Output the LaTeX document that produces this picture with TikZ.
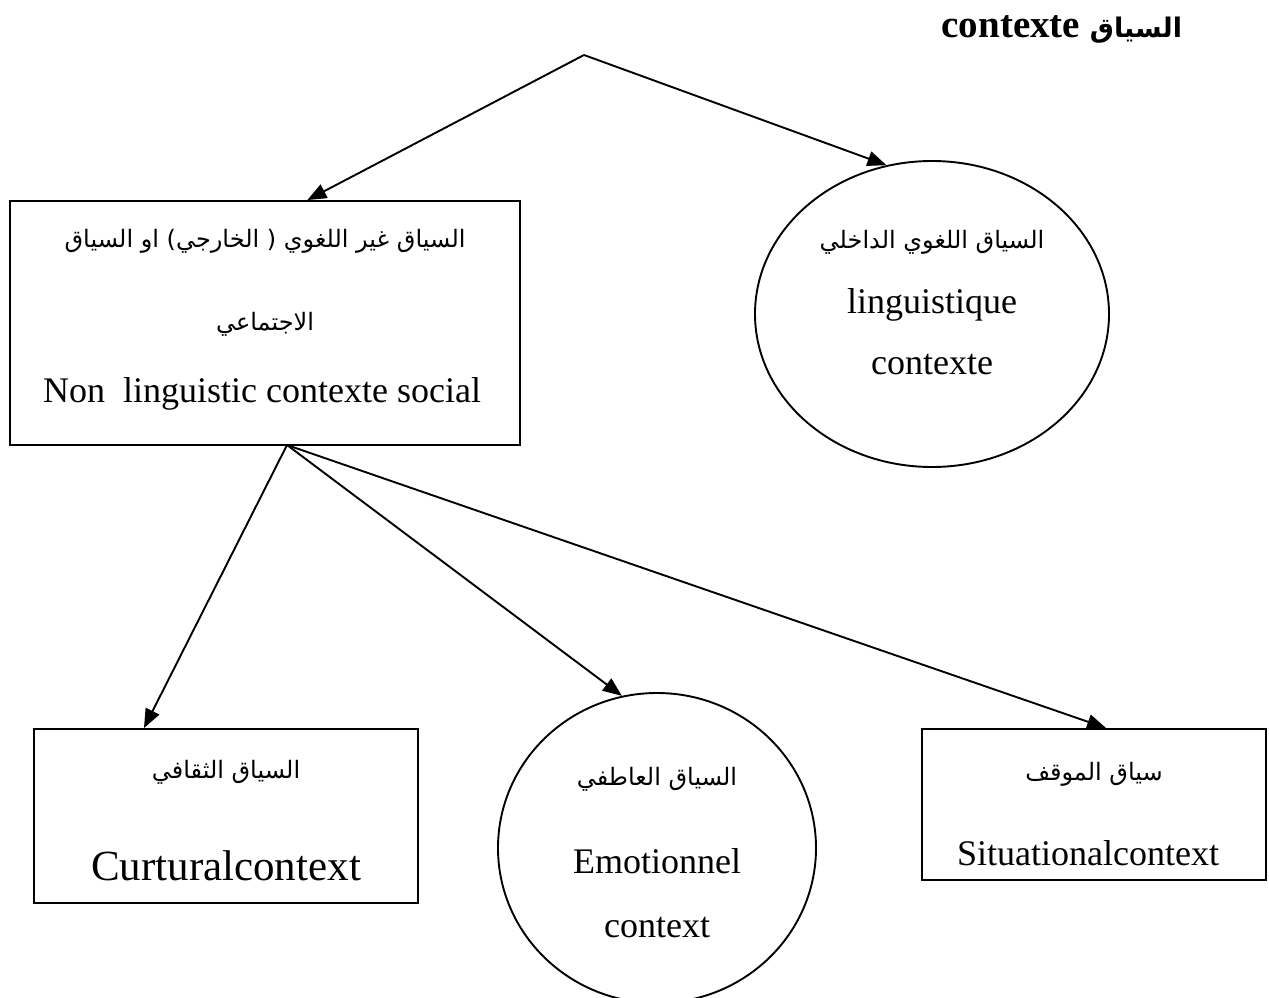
\documentclass[tikz,border=0pt]{standalone}
\usepackage{fontspec}
\setmainfont{Liberation Serif}
\newfontfamily\arabicfont[Script=Arabic]{DejaVu Sans}
\TeXXeTstate=1
\usetikzlibrary{arrows.meta,shapes.geometric}
% right-to-left Arabic run
\newcommand\rtl[1]{{\arabicfont\beginR #1\endR}}
\begin{document}
\begin{tikzpicture}[x=1pt,y=-1pt,line width=1.9pt,
  frame/.style={draw,rectangle,inner sep=0pt},
  oval/.style={draw,ellipse,inner sep=0pt},
  txt/.style={inner sep=0pt,anchor=base},
  lat/.style={txt,font=\fontsize{36}{40}\selectfont},
  arb/.style={txt,font=\fontsize{24}{28}\selectfont},
  link/.style={-{Triangle[length=19pt,width=15pt]}}]
\useasboundingbox (0,0) rectangle (1269,998);

% title
\node[txt,anchor=base east,font=\bfseries\fontsize{39}{44}\selectfont] (title) at (1183,38)
  {contexte {\fontsize{27}{30}\selectfont\rtl{السياق}}};

% shapes
\node[frame,minimum width=510pt,minimum height=244pt] (nl) at (265,323) {};
\node[oval,minimum width=354pt,minimum height=306pt] (li) at (932,314) {};
\node[frame,minimum width=384pt,minimum height=174pt] (cu) at (226,816) {};
\node[oval,minimum width=318pt,minimum height=310pt] (em) at (657,848) {};
\node[frame,minimum width=344pt,minimum height=151pt] (si) at (1094,804.5) {};

% texts of the non-linguistic context box
\node[arb] (nl1) at (265,247) {\rtl{السياق غير اللغوي ( الخارجي) او السياق}};
\node[arb] (nl2) at (265,330) {\rtl{الاجتماعي}};
\node[lat] (nl3) at (262,402) {Non\ \ linguistic contexte social};

% texts of the linguistic context
\node[arb] (li1) at (932,248) {\rtl{السياق اللغوي الداخلي}};
\node[lat] (li2) at (932,313) {linguistique};
\node[lat] (li3) at (932,374) {contexte};

% texts of the cultural context
\node[arb] (cu1) at (226,778) {\rtl{السياق الثقافي}};
\node[txt,font=\fontsize{43}{48}\selectfont] (cu2) at (226,880) {Curturalcontext};

% texts of the emotional context
\node[arb] (em1) at (657,785) {\rtl{السياق العاطفي}};
\node[lat] (em2) at (657,873) {Emotionnel};
\node[lat] (em3) at (657,937) {context};

% texts of the situational context
\node[arb] (si1) at (1094,780) {\rtl{سياق الموقف}};
\node[lat] (si2) at (1088,865) {Situationalcontext};

% connectors
\coordinate (top) at (584,55);
\coordinate (src) at (287,445);
\draw[link] (top) -- (li.107);
\draw[link] (top) -- (nl.71.4);
\draw[link] (src) -- (cu.133.3);
\draw[link] (src) -- (em.103);
\draw[link] (src) -- (si.81);
\end{tikzpicture}
\end{document}
